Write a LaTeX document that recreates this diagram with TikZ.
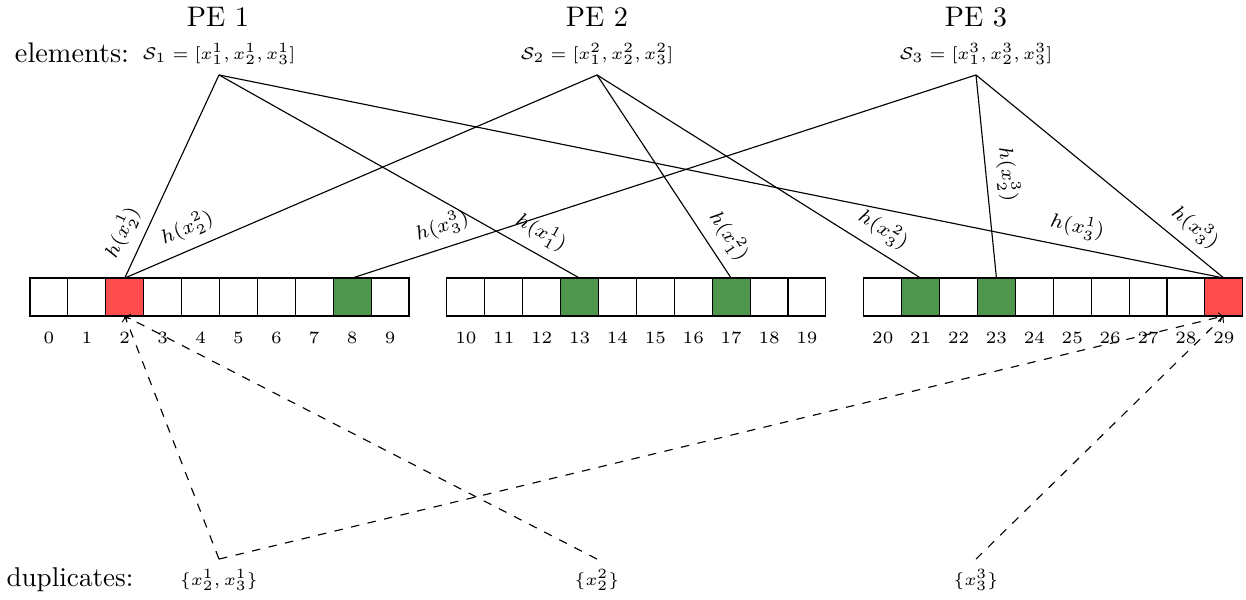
\documentclass[tikz,border=0pt]{standalone}
\usepackage{fontspec}
\usepackage{amsmath}
\definecolor{hitred}{RGB}{255,77,77}
\definecolor{hitgreen}{RGB}{78,150,78}
\tikzset{
  cell/.style={draw, minimum size=13.4pt, inner sep=0pt, outer sep=0pt},
  cell 2/.style={fill=hitred},
  cell 29/.style={fill=hitred},
  cell 8/.style={fill=hitgreen},
  cell 13/.style={fill=hitgreen},
  cell 17/.style={fill=hitgreen},
  cell 21/.style={fill=hitgreen},
  cell 23/.style={fill=hitgreen},
  num/.style={font=\fontsize{6.1}{7}\selectfont, inner sep=0pt},
  pe/.style={font=\fontsize{10}{12}\selectfont},
  side/.style={font=\fontsize{10}{12}\selectfont},
  elems/.style={font=\fontsize{6.3}{7.5}\selectfont},
  hlab/.style={font=\fontsize{7}{8.5}\selectfont, sloped, above},
  dup/.style={dashed, ->},
}
\begin{document}
\begin{tikzpicture}[x=0.3535pt, y=-0.3535pt]
\useasboundingbox (0,0) rectangle (1246,599);

% processing elements and their local element sets
\node[pe] (pe1) at (218,17) {PE 1};
\node[pe] (pe2) at (597,17) {PE 2};
\node[pe] (pe3) at (976,17) {PE 3};
\node[side] (elab) at (72,53) {elements:};
\node[elems] (s1) at (219,54) {$\mathcal{S}_1=[x_1^1,x_2^1,x_3^1]$};
\node[elems] (s2) at (597,54) {$\mathcal{S}_2=[x_1^2,x_2^2,x_3^2]$};
\node[elems] (s3) at (976,54) {$\mathcal{S}_3=[x_1^3,x_2^3,x_3^3]$};

% the shared hash table: three blocks of ten cells
\foreach \b in {0,1,2} {
  \foreach \j in {0,...,9} {
    \pgfmathtruncatemacro\k{10*\b+\j}
    \pgfmathsetmacro\cx{30+(11*\b+\j+0.5)*37.9}
    \node[cell, cell \k/.try] (c\k) at (\cx,297) {};
    \node[num] (n\k) at (\cx,338) {\k};
  }
}

% hash targets
\draw (c2.north)  -- node[hlab, pos=0.18] {$h(x_2^1)$} (s1.south);
\draw (c13.north) -- node[hlab, pos=0.135] {$h(x_1^1)$} (s1.south);
\draw (c29.north) -- node[hlab, pos=0.15] {$h(x_3^1)$} (s1.south);
\draw (c2.north)  -- node[hlab, pos=0.15] {$h(x_2^2)$} (s2.south);
\draw (c17.north) -- node[hlab, pos=0.15] {$h(x_1^2)$} (s2.south);
\draw (c21.north) -- node[hlab, pos=0.15] {$h(x_3^2)$} (s2.south);
\draw (c8.north)  -- node[hlab, pos=0.155] {$h(x_3^3)$} (s3.south);
\draw (c23.north) -- node[hlab, pos=0.50] {$h(x_2^3)$} (s3.south);
\draw (c29.north) -- node[hlab, pos=0.17] {$h(x_3^3)$} (s3.south);

% duplicates found per processing element
\node[side, font=\fontsize{9.6}{11}\selectfont] (dlab) at (70,580) {duplicates:};
\node[elems] (d1) at (219,580) {$\{x_2^1,x_3^1\}$};
\node[elems] (d2) at (597,580) {$\{x_2^2\}$};
\node[elems] (d3) at (976,580) {$\{x_3^3\}$};

\draw[dup] (d1.north) -- (c2.south);
\draw[dup] (d1.north) -- (c29.south);
\draw[dup] (d2.north) -- (c2.south);
\draw[dup] (d3.north) -- (c29.south);
\end{tikzpicture}
\end{document}
